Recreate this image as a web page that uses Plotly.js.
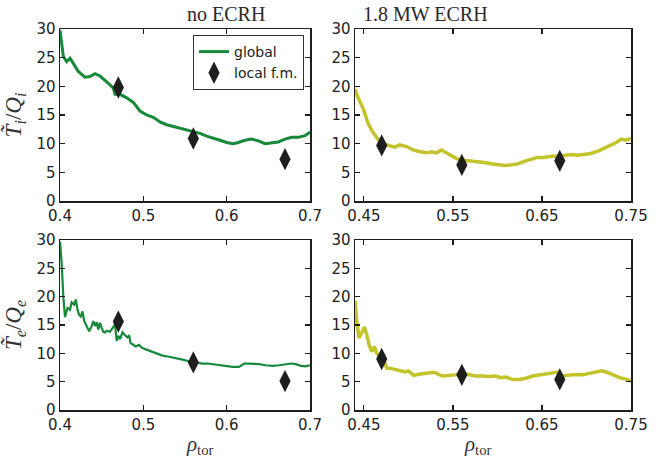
<!DOCTYPE html>
<html><head><meta charset="utf-8">
<script src="https://cdn.plot.ly/plotly-3.0.1.min.js"></script>
<style>html,body{margin:0;padding:0;background:#fff}</style>
</head><body><div id="chart" style="width:662px;height:458px"></div>
<script>
// Ti/Qi, no ECRH (global)
const tiNoX = [0.4,0.404,0.408,0.412,0.416,0.422,0.43,0.436,0.442,0.448,0.456,0.464,0.466,0.472,0.48,0.488,0.496,0.504,0.512,0.52,0.528,0.536,0.544,0.552,0.56,0.568,0.576,0.584,0.592,0.6,0.608,0.614,0.622,0.63,0.638,0.646,0.654,0.662,0.67,0.678,0.686,0.694,0.7];
const tiNoY = [29.8,25.2,24.3,24.9,24.0,22.6,21.6,21.7,22.2,21.8,20.8,19.7,18.6,18.6,18.0,17.2,15.7,15.0,14.6,13.8,13.3,13.0,12.7,12.5,12.1,11.8,11.3,11.0,10.6,10.2,10.0,10.2,10.6,10.8,10.5,10.0,10.2,10.3,10.8,11.1,11.1,11.4,12.0];
// Ti/Qi, 1.8 MW ECRH (global)
const tiEcX = [0.44,0.4437,0.4493,0.455,0.4605,0.4661,0.4718,0.4774,0.4848,0.49,0.498,0.5054,0.513,0.5203,0.526,0.5315,0.537,0.5427,0.548,0.554,0.5614,0.5707,0.578,0.5857,0.593,0.6006,0.608,0.6156,0.623,0.63,0.638,0.645,0.653,0.66,0.668,0.675,0.683,0.69,0.698,0.705,0.713,0.72,0.728,0.7335,0.739,0.7446,0.75];
const tiEcY = [19.5,17.9,16.1,13.4,11.9,10.7,10.1,9.7,9.4,9.8,9.5,8.9,8.6,8.4,8.6,8.4,8.9,8.4,7.8,7.4,7.1,7.0,6.9,6.7,6.5,6.3,6.2,6.3,6.5,6.9,7.3,7.6,7.6,7.8,7.8,7.9,8.1,8.0,8.1,8.3,8.7,9.2,9.8,10.2,10.8,10.6,10.9];
// Te/Qe, no ECRH (global)
const teNoX = [0.4,0.402,0.404,0.406,0.409,0.412,0.414,0.417,0.419,0.421,0.423,0.425,0.427,0.429,0.432,0.435,0.438,0.44,0.442,0.444,0.446,0.448,0.45,0.452,0.454,0.456,0.46,0.464,0.466,0.468,0.47,0.472,0.475,0.478,0.481,0.483,0.4845,0.487,0.491,0.495,0.498,0.503,0.509,0.513,0.517,0.523,0.531,0.539,0.547,0.555,0.563,0.571,0.577,0.583,0.591,0.599,0.607,0.615,0.621,0.625,0.631,0.639,0.647,0.655,0.663,0.671,0.677,0.683,0.689,0.695,0.7];
const teNoY = [29.7,25.9,20.0,16.4,18.0,17.7,19.0,18.6,19.5,17.7,16.8,16.5,17.4,15.7,14.8,13.9,14.8,15.7,14.8,15.5,14.2,15.4,14.5,13.8,13.7,14.0,13.8,14.8,15.1,12.2,13.1,12.5,13.7,13.2,12.8,13.2,11.9,11.6,11.2,11.5,11.0,10.7,10.4,10.1,10.0,9.6,9.4,9.2,8.9,8.6,8.4,8.2,8.2,8.1,7.9,7.7,7.6,7.6,8.2,8.2,8.2,8.1,7.9,7.8,7.9,8.1,8.2,8.1,7.8,7.7,7.9];
// Te/Qe, 1.8 MW ECRH (global)
const teEcX = [0.44,0.4419,0.4445,0.4475,0.4506,0.4532,0.4558,0.4588,0.4618,0.4644,0.4671,0.4701,0.4731,0.4757,0.4813,0.4889,0.4964,0.5,0.5058,0.5114,0.5189,0.5264,0.53,0.5377,0.5452,0.5528,0.5603,0.5679,0.5754,0.5829,0.5904,0.598,0.6036,0.6093,0.6169,0.6244,0.6319,0.6395,0.647,0.6545,0.662,0.6677,0.6715,0.6771,0.6846,0.6959,0.7035,0.711,0.7166,0.7223,0.7298,0.7373,0.7448,0.75];
const teEcY = [19.3,15.7,12.7,13.6,14.6,13.3,11.5,10.3,11.2,10.0,9.4,9.0,8.5,7.4,7.3,7.0,6.7,6.9,6.1,6.3,6.5,6.6,6.6,6.0,6.1,6.2,6.5,6.2,6.0,6.0,5.9,6.0,5.7,5.8,5.4,5.4,5.6,6.0,6.2,6.3,6.5,6.7,6.0,6.1,6.2,6.2,6.5,6.7,6.9,6.7,6.2,5.7,5.4,5.1];
// local flux-matched points
const fmX = [0.47,0.56,0.67];
const fmTiNo = [19.8,10.9,7.3];
const fmTiEc = [9.7,6.3,7.0];
const fmTeNo = [15.6,8.4,5.1];
const fmTeEc = [9.0,6.2,5.4];
// tick labels
const yTicks = [0,5,10,15,20,25,30];
const xTicksL = [0.4,0.5,0.6,0.7];
const xTicksR = [0.45,0.55,0.65,0.75];
const xTickTextL = ['0.4','0.5','0.6','0.7'];
const xTickTextR = ['0.45','0.55','0.65','0.75'];

const green = '#168a3a';
const yellow = '#c3c42c';
const dark = '#1e1e1e';

function line(x,y,xa,ya,color,w,name,show){
  return {x:x,y:y,xaxis:xa,yaxis:ya,type:'scatter',mode:'lines',name:name,showlegend:show,
    line:{color:color,width:w},hoverinfo:'skip'};
}
function pts(x,y,xa,ya,show){
  return {x:x,y:y,xaxis:xa,yaxis:ya,type:'scatter',mode:'markers',name:'local f.m.',showlegend:show,
    marker:{symbol:'diamond-tall',size:16,color:dark,opacity:1,line:{width:0}},hoverinfo:'skip'};
}
const traces = [
  line(tiNoX,tiNoY,'x','y',green,3,'global',true),
  pts(fmX,fmTiNo,'x','y',true),
  line(tiEcX,tiEcY,'x2','y2',yellow,3.5,'g2',false),
  pts(fmX,fmTiEc,'x2','y2',false),
  line(teNoX,teNoY,'x3','y3',green,2.2,'g3',false),
  pts(fmX,fmTeNo,'x3','y3',false),
  line(teEcX,teEcY,'x4','y4',yellow,3.5,'g4',false),
  pts(fmX,fmTeEc,'x4','y4',false)
];
const tickFont = {family:'DejaVu Sans, sans-serif',size:15,color:'#222'};
function ax(extra){
  return Object.assign({showline:true,mirror:'ticks',linecolor:dark,linewidth:1.5,ticks:'inside',ticklen:5,
    tickwidth:1.2,tickcolor:dark,showgrid:false,zeroline:false,tickfont:tickFont,fixedrange:true},extra);
}
const L=[60/662,310/662], R=[355/662,631/662];
const T=[1-201/458,1-29/458], B=[1-410/458,1-240/458];
const mathFont = {family:'Liberation Serif, DejaVu Serif, serif',size:23,color:'#333'};
const rhoFont = {family:'Liberation Serif, DejaVu Serif, serif',size:21,color:'#333'};
const serif18 = {family:'Liberation Serif, DejaVu Serif, serif',size:20,color:'#2a2a2a'};
const layout = {
  width:662,height:458,margin:{l:0,r:0,t:0,b:0},paper_bgcolor:'#fff',plot_bgcolor:'#fff',
  showlegend:true,
  legend:{x:304/662,xanchor:'right',y:1-35/458,yanchor:'top',bordercolor:'#333',borderwidth:1,
    bgcolor:'#fff',font:{family:'DejaVu Sans, sans-serif',size:14,color:'#222'},tracegroupgap:0},
  xaxis:ax({domain:L,anchor:'y',range:[0.4,0.7],tickvals:xTicksL,ticktext:xTickTextL}),
  yaxis:ax({domain:T,anchor:'x',range:[0,30],tickvals:yTicks,
    title:{text:'<i>T\u0303</i><sub><i>i</i></sub>/<i>Q</i><sub><i>i</i></sub>',font:mathFont,standoff:8}}),
  xaxis2:ax({domain:R,anchor:'y2',range:[0.44,0.75],tickvals:xTicksR,ticktext:xTickTextR}),
  yaxis2:ax({domain:T,anchor:'x2',range:[0,30],tickvals:yTicks}),
  xaxis3:ax({domain:L,anchor:'y3',range:[0.4,0.7],tickvals:xTicksL,ticktext:xTickTextL}),
  yaxis3:ax({domain:B,anchor:'x3',range:[0,30],tickvals:yTicks,
    title:{text:'<i>T\u0303</i><sub><i>e</i></sub>/<i>Q</i><sub><i>e</i></sub>',font:mathFont,standoff:8}}),
  xaxis4:ax({domain:R,anchor:'y4',range:[0.44,0.75],tickvals:xTicksR,ticktext:xTickTextR}),
  yaxis4:ax({domain:B,anchor:'x4',range:[0,30],tickvals:yTicks}),
  annotations:[
    {text:'no ECRH',xref:'paper',yref:'paper',x:185/662,y:1-14/458,yanchor:'middle',showarrow:false,font:serif18},
    {text:'1.8 MW ECRH',xref:'paper',yref:'paper',x:490/662,y:1-14/458,yanchor:'middle',showarrow:false,font:serif18},
    {text:'<i>ρ</i><sub>tor</sub>',xref:'paper',yref:'paper',x:185/662,y:1-445/458,yanchor:'middle',showarrow:false,font:rhoFont,borderpad:0},
    {text:'<i>ρ</i><sub>tor</sub>',xref:'paper',yref:'paper',x:493/662,y:1-445/458,yanchor:'middle',showarrow:false,font:rhoFont,borderpad:0}
  ]
};
Plotly.newPlot('chart',traces,layout,{displayModeBar:false,staticPlot:true});
</script></body></html>
